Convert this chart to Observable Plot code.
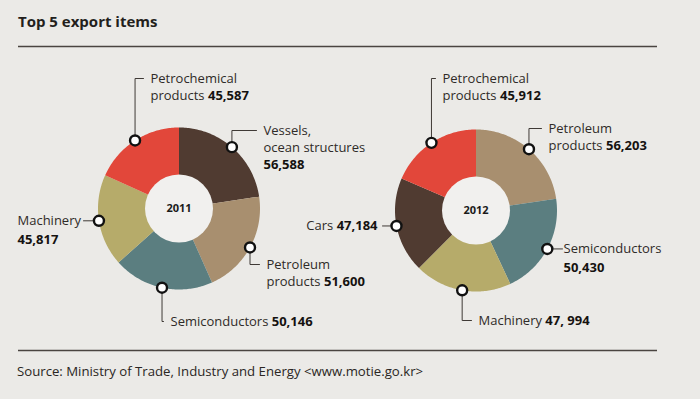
<!DOCTYPE html>
<html>
<head>
<meta charset="utf-8">
<script src="https://cdn.jsdelivr.net/npm/d3@7"></script>
<script src="https://cdn.jsdelivr.net/npm/@observablehq/plot@0.6"></script>
<style>
  html, body { margin: 0; padding: 0; background: #ebeae7; }
  #wrap { position: relative; width: 700px; height: 399px; background: #ebeae7; overflow: hidden; font-family: "Open Sans", sans-serif; }
  #title { position: absolute; left: 18px; top: 13.5px; font-size: 15px; line-height: 15px; font-weight: 700; color: #231f1c; white-space: nowrap; }
  #chart { position: absolute; left: 0; top: 40px; }
  #source { position: absolute; left: 17px; top: 365px; font-size: 13.2px; line-height: 13.2px; color: #2a2623; white-space: nowrap; }
</style>
</head>
<body>
<div id="wrap">
  <div id="title">Top 5 export items</div>
  <div id="chart"></div>
  <div id="source">Source: Ministry of Trade, Industry and Energy &lt;www.motie.go.kr&gt;</div>
</div>
<script>
// ---------------- DATA ----------------
const years = ["2011", "2012"];

const items2011 = ["Vessels, ocean structures", "Petroleum products", "Semiconductors", "Machinery", "Petrochemical products"];
const values2011 = [56588, 51600, 50146, 45817, 45587];
const valueLabels2011 = ["56,588", "51,600", "50,146", "45,817", "45,587"];

const items2012 = ["Petroleum products", "Semiconductors", "Machinery", "Cars", "Petrochemical products"];
const values2012 = [56203, 50430, 47994, 47184, 45912];
const valueLabels2012 = ["56,203", "50,430", "47, 994", "47,184", "45,912"];

// ---------------- STYLE / LAYOUT ----------------
const itemColors = {
  "Vessels, ocean structures": "#503b31",
  "Cars": "#503b31",
  "Petroleum products": "#a88f6f",
  "Semiconductors": "#5b7e80",
  "Machinery": "#b6ab6a",
  "Petrochemical products": "#e2473a"
};

const donutLayout = [
  {cx: 178.5, cy: 208, R: 81, r: 34},
  {cx: 475.5, cy: 210, R: 81, r: 34}
];

// label layout per item (same order as the item arrays)
const labelLayout2011 = [
  {lines: ["Vessels,", "ocean structures"], x: 263, y: 130, num: "below", leader: "elbow"},
  {lines: ["Petroleum", "products"], x: 266, y: 264, num: "inline", leader: "elbow"},
  {lines: ["Semiconductors"], x: 170, y: 321, num: "inline", leader: "elbow"},
  {lines: ["Machinery"], x: 17, y: null, num: "below", leader: "side"},
  {lines: ["Petrochemical", "products"], x: 150, y: 78, num: "inline", leader: "elbow"}
];
const labelLayout2012 = [
  {lines: ["Petroleum", "products"], x: 548, y: 128, num: "inline", leader: "elbow"},
  {lines: ["Semiconductors"], x: 563, y: null, num: "below", leader: "side"},
  {lines: ["Machinery"], x: 478, y: 320, num: "inline", leader: "elbow"},
  {lines: ["Cars"], xEnd: 377, y: null, num: "inline", leader: "sideLeft"},
  {lines: ["Petrochemical", "products"], x: 442, y: 78, num: "inline", leader: "elbow"}
];

const FONT = '"Open Sans"';
const FS = 13;
const LH = 17;
const GAP = 6;

// ---------------- GEOMETRY ----------------
const ctx = document.createElement("canvas").getContext("2d");
function tw(s, bold) { ctx.font = `${bold ? 700 : 400} ${FS}px ${FONT}`; return ctx.measureText(s).width; }

const slicePts = [], holes = [], yearText = [], markers = [], leaders = [], textRows = [];
const sets = [
  {items: items2011, values: values2011, vlabels: valueLabels2011, layout: labelLayout2011},
  {items: items2012, values: values2012, vlabels: valueLabels2012, layout: labelLayout2012}
];

sets.forEach((set, k) => {
  const {cx, cy, R, r} = donutLayout[k];
  const arcs = d3.pie().sort(null).value(d => d)(set.values);
  const pt = (a, rad) => ({x: cx + rad * Math.sin(a), y: cy - rad * Math.cos(a)});
  arcs.forEach((arc, i) => {
    const id = `${k}-${i}`;
    const color = itemColors[set.items[i]];
    const n = Math.max(2, Math.ceil((arc.endAngle - arc.startAngle) / (Math.PI / 180)));
    for (let j = 0; j <= n; j++) {
      const a = arc.startAngle + (arc.endAngle - arc.startAngle) * j / n;
      slicePts.push({id, color, ...pt(a, R)});
    }
    for (let j = n; j >= 0; j--) {
      const a = arc.startAngle + (arc.endAngle - arc.startAngle) * j / n;
      slicePts.push({id, color, ...pt(a, r - 1)});
    }
    // marker at mid-angle on the outer edge
    const mid = (arc.startAngle + arc.endAngle) / 2;
    const m = pt(mid, R);
    markers.push(m);
    const L = set.layout[i];
    const vlab = set.vlabels[i];
    if (L.leader === "elbow") {
      const y0 = L.y;
      leaders.push({id, x: m.x, y: m.y}, {id, x: m.x, y: y0}, {id, x: L.x - GAP - 1, y: y0});
      L.lines.forEach((s, li) => textRows.push({x: L.x, y: y0 + li * LH, text: s, bold: false, anchor: "start"}));
      const last = L.lines[L.lines.length - 1];
      if (L.num === "inline") textRows.push({x: L.x + tw(last + " ", false), y: y0 + (L.lines.length - 1) * LH, text: vlab, bold: true, anchor: "start"});
      else textRows.push({x: L.x, y: y0 + L.lines.length * LH, text: vlab, bold: true, anchor: "start"});
    } else if (L.leader === "side") {
      const y0 = m.y;
      const textEnd = L.x + tw(L.lines[0], false);
      const isLeft = L.x < m.x;
      if (isLeft) leaders.push({id, x: textEnd + 2.5, y: y0}, {id, x: m.x, y: y0});
      else leaders.push({id, x: m.x, y: y0}, {id, x: L.x - 1, y: y0});
      textRows.push({x: L.x, y: y0, text: L.lines[0], bold: false, anchor: "start"});
      textRows.push({x: L.x, y: y0 + LH + 2, text: vlab, bold: true, anchor: "start"});
    } else if (L.leader === "sideLeft") {
      const y0 = m.y;
      leaders.push({id, x: L.xEnd + 5, y: y0}, {id, x: m.x, y: y0});
      const nw = tw(vlab, true);
      textRows.push({x: L.xEnd, y: y0, text: vlab, bold: true, anchor: "end"});
      textRows.push({x: L.xEnd - nw - tw(" ", false), y: y0, text: L.lines[0], bold: false, anchor: "end"});
    }
  });
  holes.push({x: cx, y: cy});
  yearText.push({x: cx, y: cy, text: years[k]});
});

// ---------------- PLOT ----------------
const SVG_TOP = 40, H = 320;
const chart = Plot.plot({
  width: 700,
  height: H,
  margin: 0,
  x: {domain: [0, 700], range: [0, 700], axis: null},
  y: {domain: [SVG_TOP, SVG_TOP + H], range: [0, H], axis: null},
  color: {type: "identity"},
  style: {background: "transparent", overflow: "visible"},
  marks: [
    Plot.ruleY([46, 350], {x1: 18, x2: 657, stroke: "#4a4541", strokeWidth: 1.4}),
    Plot.line(slicePts, {x: "x", y: "y", z: "id", fill: "color", stroke: "none", curve: "linear-closed"}),
    Plot.dot(holes, {x: "x", y: "y", r: 34, fill: "#f1f0ee", stroke: "none"}),
    Plot.text(yearText, {x: "x", y: "y", text: "text", fontSize: 11, fontWeight: 700, fontFamily: FONT, fill: "#1a1a1a", letterSpacing: 0.3}),
    Plot.line(leaders, {x: "x", y: "y", z: "id", stroke: "#3f3a36", strokeWidth: 1, curve: "linear"}),
    Plot.dot(markers, {x: "x", y: "y", r: 5, fill: "white", stroke: "#111", strokeWidth: 2.4}),
    Plot.text(textRows.filter(d => !d.bold && d.anchor === "start"), {x: "x", y: "y", text: "text", textAnchor: "start", lineAnchor: "middle", fontSize: FS, fontFamily: FONT, fill: "#2f2b28"}),
    Plot.text(textRows.filter(d => !d.bold && d.anchor === "end"), {x: "x", y: "y", text: "text", textAnchor: "end", lineAnchor: "middle", fontSize: FS, fontFamily: FONT, fill: "#2f2b28"}),
    Plot.text(textRows.filter(d => d.bold && d.anchor === "start"), {x: "x", y: "y", text: "text", textAnchor: "start", lineAnchor: "middle", fontSize: FS, fontWeight: 700, fontFamily: FONT, fill: "#151210"}),
    Plot.text(textRows.filter(d => d.bold && d.anchor === "end"), {x: "x", y: "y", text: "text", textAnchor: "end", lineAnchor: "middle", fontSize: FS, fontWeight: 700, fontFamily: FONT, fill: "#151210"})
  ]
});
document.getElementById("chart").appendChild(chart);
</script>
</body>
</html>
